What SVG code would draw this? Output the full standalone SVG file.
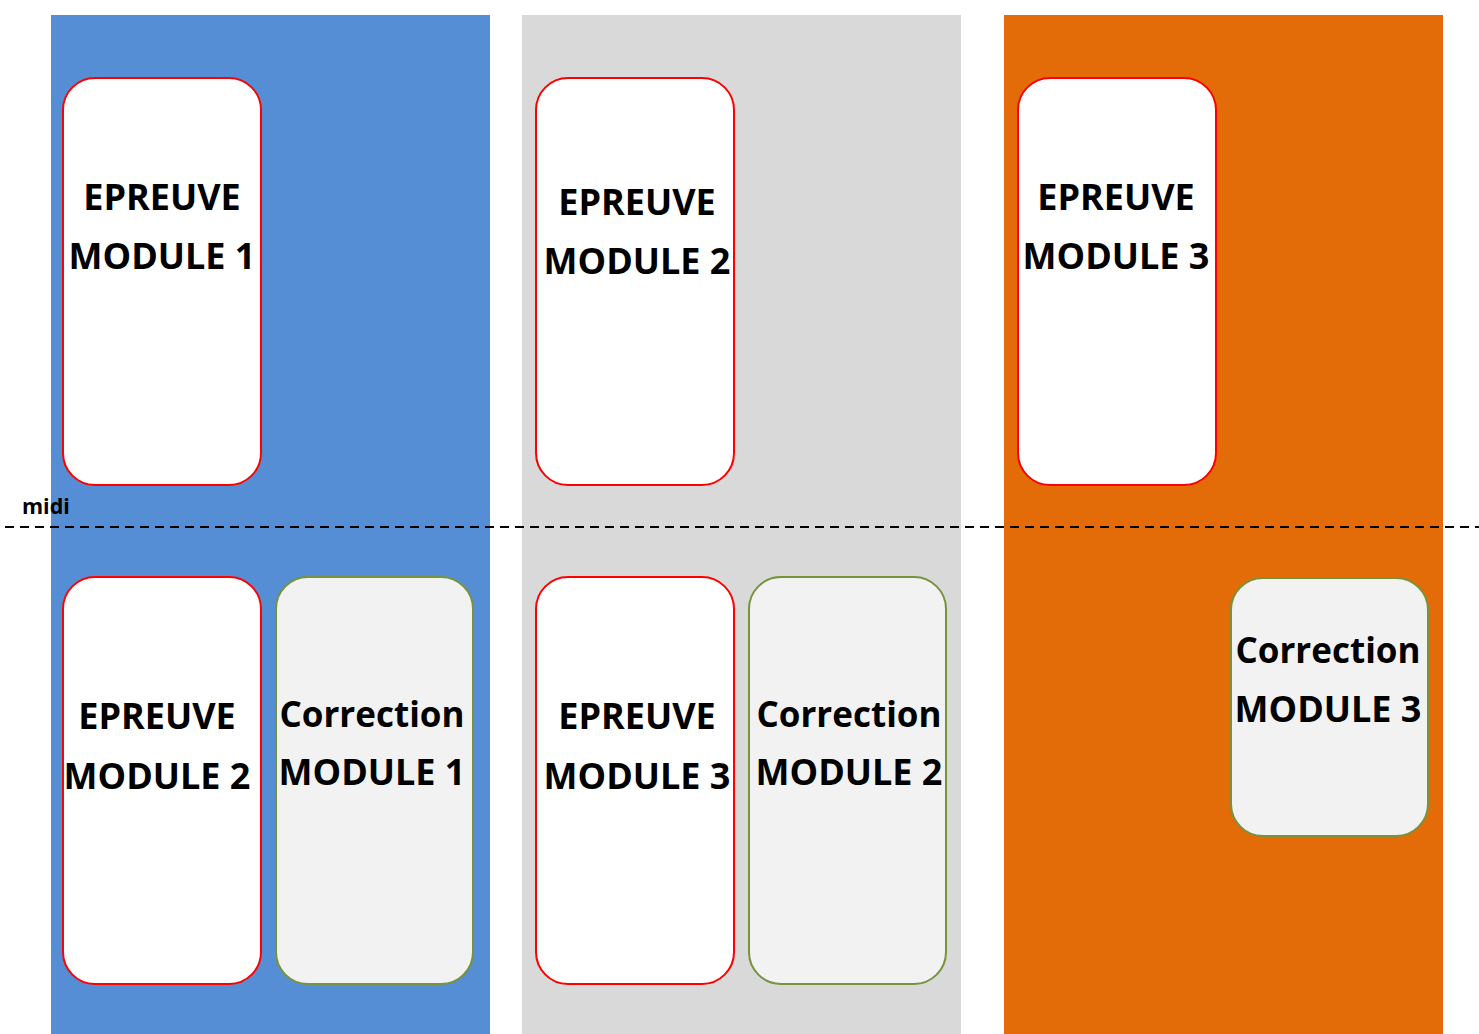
<svg xmlns="http://www.w3.org/2000/svg" width="1479" height="1034" viewBox="0 0 1479 1034">
<style>
.ep{fill:#FFFFFF;stroke:#FF0000;stroke-width:2}
.co{fill:#F2F2F2;stroke:#77933C;stroke-width:2}
.t{font-family:"Open Sans","DejaVu Sans",sans-serif;font-weight:bold;font-size:36px;fill:#000;text-anchor:middle}
.c{font-size:35px}
.m{font-family:"Open Sans","DejaVu Sans",sans-serif;font-weight:bold;font-size:21.5px;fill:#000}
</style>
<rect x="0" y="0" width="1479" height="1034" fill="#FFFFFF"/>
<g id="panels">
<rect x="51" y="15" width="439" height="1019" fill="#558ED5"/>
<rect x="522" y="15" width="439" height="1019" fill="#D9D9D9"/>
<rect x="1004" y="15" width="439" height="1019" fill="#E36C09"/>
</g>
<g id="connectors">
<line x1="5" y1="527" x2="1479" y2="527" stroke="#000" stroke-width="2" stroke-dasharray="9,6"/>
</g>
<text class="m" x="22" y="514">midi</text>
<g id="epreuve1">
<rect class="ep" x="63" y="78" width="198" height="407" rx="32"/>
<text class="t" x="162" y="210">EPREUVE</text>
<text class="t" x="162" y="269">MODULE 1</text>
</g>
<g id="epreuve2-top">
<rect class="ep" x="536" y="78" width="198" height="407" rx="32"/>
<text class="t" x="637" y="215">EPREUVE</text>
<text class="t" x="637" y="274">MODULE 2</text>
</g>
<g id="epreuve3-top">
<rect class="ep" x="1018" y="78" width="198" height="407" rx="32"/>
<text class="t" x="1116" y="210">EPREUVE</text>
<text class="t" x="1116" y="269">MODULE 3</text>
</g>
<g id="epreuve2-bottom">
<rect class="ep" x="63" y="577" width="198" height="407" rx="32"/>
<text class="t" x="157" y="729">EPREUVE</text>
<text class="t" x="157" y="789">MODULE 2</text>
</g>
<g id="correction1">
<rect class="co" x="276" y="577" width="197" height="407" rx="32"/>
<text class="t c" x="372" y="727">Correction</text>
<text class="t" x="372" y="785">MODULE 1</text>
</g>
<g id="epreuve3-bottom">
<rect class="ep" x="536" y="577" width="198" height="407" rx="32"/>
<text class="t" x="637" y="729">EPREUVE</text>
<text class="t" x="637" y="789">MODULE 3</text>
</g>
<g id="correction2">
<rect class="co" x="749" y="577" width="197" height="407" rx="32"/>
<text class="t c" x="849" y="727">Correction</text>
<text class="t" x="849" y="785">MODULE 2</text>
</g>
<g id="correction3">
<rect class="co" x="1231" y="578" width="197" height="258" rx="32"/>
<text class="t c" x="1328" y="663">Correction</text>
<text class="t" x="1328" y="722">MODULE 3</text>
</g>
</svg>
